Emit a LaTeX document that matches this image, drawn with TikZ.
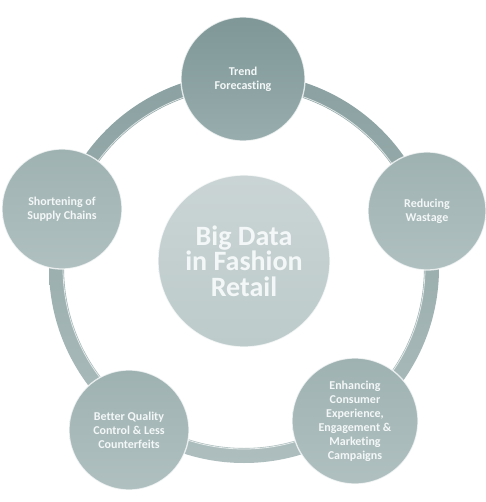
\documentclass[tikz,border=0pt]{standalone}
\usepackage{fontspec}
\setmainfont{Carlito}[Ligatures=NoCommon]
\definecolor{ringtop}{HTML}{8BA1A1}
\definecolor{ringbot}{HTML}{AEBEBE}
\definecolor{toptop}{HTML}{7F9797}
\definecolor{topbot}{HTML}{98ADAD}
\definecolor{bubtop}{HTML}{9FB2B2}
\definecolor{bubbot}{HTML}{B0C0C0}
\definecolor{ctrtop}{HTML}{CAD4D4}
\definecolor{ctrbot}{HTML}{BDCBCB}
\definecolor{txt}{HTML}{F4F7F7}
\begin{document}
\begin{tikzpicture}[x=1pt,y=-1pt,
  bub/.style={circle, inner sep=0pt, draw=white, line width=1.3pt, draw opacity=0.75,
    top color=bubtop, bottom color=bubbot, text=txt, align=center,
    font=\bfseries\fontsize{12}{14}\selectfont},
  hub/.style={bub, top color=ctrtop, bottom color=ctrbot,
    font=\bfseries\fontsize{28}{25.5}\selectfont}]
\useasboundingbox (0,0) rectangle (485,502);
\fill[white] (0,0) rectangle (485,502);
\coordinate (rc) at (244,268);
\shade[top color=ringtop, bottom color=ringbot, even odd rule] (rc) circle (195pt) (rc) circle (180pt);
\draw[white, line width=0.8pt, opacity=0.7] (rc) circle (181pt);
\node[bub, minimum size=124pt, top color=toptop, bottom color=topbot] (trend) at (243,79) {Trend\\Forecasting};
\node[bub, minimum size=118pt] (waste) at (427,211) {Reducing\\Wastage};
\node[bub, minimum size=120pt] (supply) at (62,209) {Shortening of\\Supply Chains};
\node[bub, minimum size=120pt] (quality) at (129,430) {Better Quality\\Control \& Less\\Counterfeits};
\node[bub, minimum size=126pt] (consumer) at (355,421) {Enhancing\\Consumer\\Experience,\\Engagement \&\\Marketing\\Campaigns};
\node[hub, minimum size=172pt] (hub) at (244,261) {Big Data\\in Fashion\\Retail};
\end{tikzpicture}
\end{document}
